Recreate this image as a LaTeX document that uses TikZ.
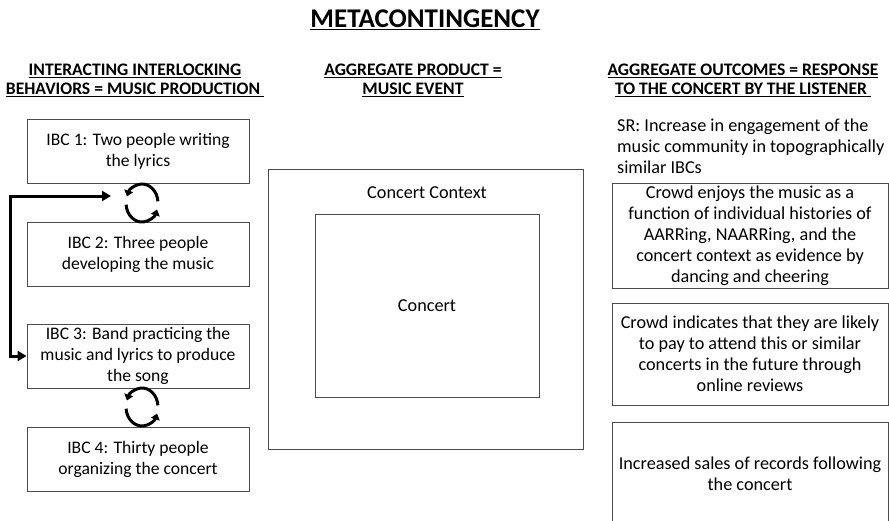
\documentclass[tikz,border=0pt]{standalone}
\usepackage{fontspec}
\setmainfont{Carlito}
\usetikzlibrary{arrows.meta}
\begin{document}
\begin{tikzpicture}[x=1pt,y=-1pt,
  txt/.style={font=\fontsize{18.2}{21}\selectfont, align=center, inner sep=0pt},
  box/.style={txt, draw=black!70, line width=0.9pt},
  lbox/.style={box, font=\fontsize{17.6}{21}\selectfont, minimum width=222pt, minimum height=64pt},
  head/.style={font=\bfseries\fontsize{17.6}{19}\selectfont, align=center, inner sep=0pt},
  link/.style={line width=3pt, {Triangle[length=9pt,width=10pt]}-{Triangle[length=9pt,width=10pt]}},
  cyc/.style={line width=3pt, -{Triangle[length=6pt,width=9pt]}}
]
\useasboundingbox (0,0) rectangle (889,520);

% title and headings
\node[font=\bfseries\fontsize{27}{30}\selectfont, inner sep=0pt] (title) at (425,20) {\underline{METACONTINGENCY}};
\node[head] (h1) at (135,80) {\underline{INTERACTING INTERLOCKING}\\\underline{BEHAVIORS = MUSIC PRODUCTION\ }};
\node[head] (h2) at (413,80) {\underline{AGGREGATE PRODUCT =}\\\underline{MUSIC EVENT}};
\node[head] (h3) at (743,80) {\underline{AGGREGATE OUTCOMES = RESPONSE}\\\underline{TO THE CONCERT BY THE LISTENER\ }};

% left column
\node[lbox] (ibc1) at (138,151.5) {IBC 1: Two people writing\\the lyrics};
\node[lbox] (ibc2) at (138,254) {IBC 2: Three people\\developing the music};
\node[lbox] (ibc3) at (138,356) {IBC 3: Band practicing the\\music and lyrics to produce\\the song};
\node[lbox] (ibc4) at (138,459) {IBC 4: Thirty people\\organizing the concert};

% circular arrows
\draw[cyc] (142,203) ++(-5:16 and 19) arc[start angle=-5, end angle=-160, x radius=16, y radius=19];
\draw[cyc] (142,203) ++(175:16 and 19) arc[start angle=175, end angle=20, x radius=16, y radius=19];
\draw[cyc] (142,407) ++(-5:16 and 19) arc[start angle=-5, end angle=-160, x radius=16, y radius=19];
\draw[cyc] (142,407) ++(175:16 and 19) arc[start angle=175, end angle=20, x radius=16, y radius=19];

% connector
\coordinate (c1) at (111,196);
\coordinate (cl) at (10,196);
\draw[link] (c1) -- (cl) |- (ibc3.west);

% middle
\node[box, minimum width=315pt, minimum height=280pt] (ctx) at (425.5,309) {};
\node[txt] (ctxlab) at (427,193) {Concert Context};
\node[box, minimum width=224pt, minimum height=183pt] (concert) at (427,305.5) {Concert};

% right column
\node[txt, align=left, anchor=west] (sr) at (617,146) {SR: Increase in engagement of the\\music community in topographically\\similar IBCs};
\node[box, minimum width=276pt, minimum height=105pt] (r1) at (750,235.5) {Crowd enjoys the music as a\\function of individual histories of\\AARRing, NAARRing, and the\\concert context as evidence by\\dancing and cheering};
\node[box, minimum width=276pt, minimum height=102pt] (r2) at (750,354) {Crowd indicates that they are likely\\to pay to attend this or similar\\concerts in the future through\\online reviews};
\node[box, minimum width=276pt, minimum height=104pt] (r3) at (750,474) {Increased sales of records following\\the concert};
\end{tikzpicture}
\end{document}
